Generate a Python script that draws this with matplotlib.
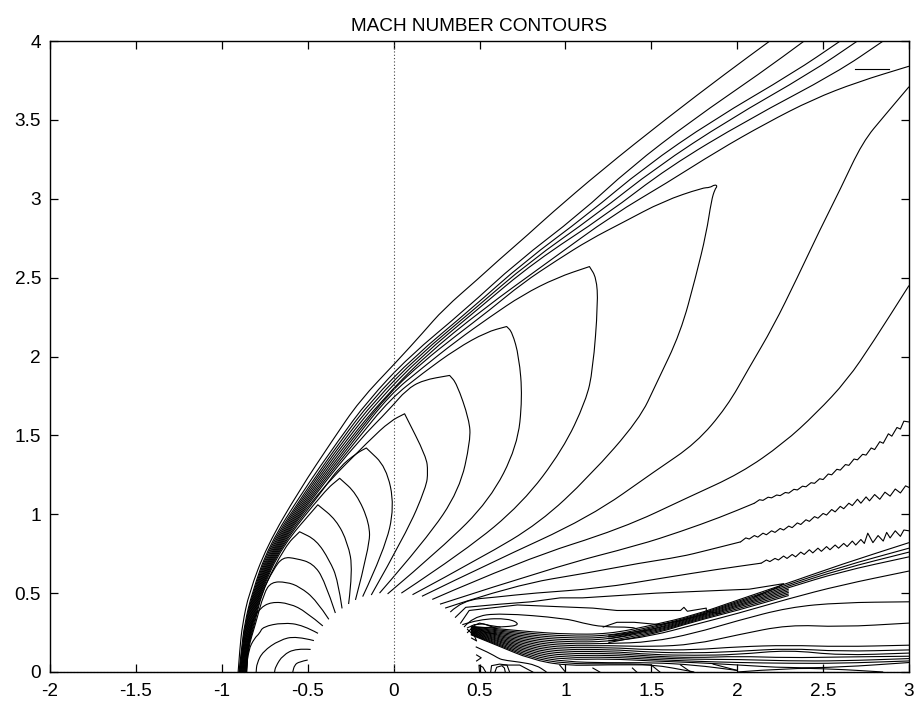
import matplotlib
matplotlib.use("Agg")
import matplotlib.pyplot as plt
from matplotlib.path import Path
from matplotlib.patches import PathPatch

title = "MACH NUMBER CONTOURS"
x_ticks = [-2, -1.5, -1, -0.5, 0, 0.5, 1, 1.5, 2, 2.5, 3]
y_ticks = [0, 0.5, 1, 1.5, 2, 2.5, 3, 3.5, 4]
x_tick_labels = ["-2", "-1.5", "-1", "-0.5", "0", "0.5", "1", "1.5", "2", "2.5", "3"]
y_tick_labels = ["0", "0.5", "1", "1.5", "2", "2.5", "3", "3.5", "4"]

# --- bow shock family: (x, y)
shock0 = [(-.905,0),(-.895,.15),(-.88,.3),(-.842,.5),(-.737,.8),(-.55,1.15),(-.355,1.47),(-.198,1.72),(.02,1.97),(.17,2.15),(.29,2.3),(.5,2.5),(.6,2.6),(.79,2.78),(.91,2.9),(1.21,3.18),(1.59,3.51),(1.94,3.8),(2.19,4)]
shock1 = [(-.90,0),(-.885,.15),(-.868,.3),(-.825,.5),(-.727,.8),(-.525,1.15),(-.32,1.47),(-.15,1.72),(.09,2),(.42,2.3),(.72,2.6),(1.08,2.9),(1.38,3.2),(1.74,3.5),(2.14,3.8),(2.39,4)]
shock2 = [(-.897,0),(-.882,.15),(-.864,.3),(-.82,.5),(-.72,.8),(-.51,1.15),(-.305,1.47),(-.13,1.72),(.12,2),(.45,2.3),(.76,2.6),(1.13,2.9),(1.46,3.2),(1.86,3.5),(2.33,3.8),(2.6,4)]
shock3 = [(-.894,0),(-.88,.15),(-.86,.3),(-.816,.5),(-.712,.8),(-.50,1.15),(-.29,1.47),(-.11,1.72),(.14,2),(.47,2.3),(.79,2.6),(1.18,2.9),(1.53,3.2),(1.95,3.5),(2.43,3.8),(2.7,4)]
shock4 = [(-.891,0),(-.877,.15),(-.856,.3),(-.812,.5),(-.705,.8),(-.49,1.15),(-.275,1.47),(-.09,1.72),(.16,2),(.49,2.3),(.82,2.6),(1.24,2.9),(1.6,3.2),(2.06,3.5),(2.58,3.8),(2.85,4)]
shock5 = [(-.888,0),(-.875,.15),(-.852,.3),(-.808,.5),(-.698,.8),(-.48,1.15),(-.26,1.47),(-.07,1.72),(.18,2),(.52,2.3),(.90,2.6),(1.28,2.9),(1.59,3.10),(1.88,3.30),(2.17,3.48),(2.44,3.63),(2.70,3.74),(3,3.84)]

# --- arches from the body surface up to a crest and back down the shock
arc_a0 = [(-.5,.076),(-.55,.065),(-.577,.044),(-.587,0)]
arc_a1 = [(-.483,.143),(-.567,.15),(-.645,.107),(-.687,.034),(-.693,0)]
arc_a2 = [(-.464,.199),(-.567,.228),(-.664,.203),(-.761,.13),(-.796,.055),(-.80,0)]
arc_a3 = [(-.44,.245),(-.528,.298),(-.645,.313),(-.761,.287),(-.78,.245),(-.81,.214),(-.845,.14),(-.858,0)]
arc_a4 = [(-.412,.292),(-.509,.382),(-.606,.435),(-.712,.445),(-.78,.403),(-.82,.33),(-.83,.28),(-.85,.15),(-.855,0)]
arc_a5 = [(-.377,.334),(-.45,.456),(-.547,.541),(-.625,.571),(-.712,.571),(-.755,.5),(-.805,.3),(-.847,.15),(-.856,0)]
arc_a6 = [(-.339,.374),(-.402,.583),(-.47,.689),(-.567,.72),(-.645,.729),(-.70,.65),(-.768,.5),(-.81,.3),(-.85,.15),(-.858,0)]
arc_a7 = [(-.30,.403),(-.324,.583),(-.373,.708),(-.45,.837),(-.547,.889),(-.547,.889),(-.63,.8),(-.772,.5),(-.815,.3),(-.852,.15),(-.861,0)]
arc_a8 = [(-.262,.431),(-.237,.647),(-.266,.817),(-.334,.965),(-.441,1.06),(-.441,1.06),(-.648,.8),(-.776,.5),(-.82,.3),(-.855,.15),(-.864,0)]
arc_a9 = [(-.222,.457),(-.14,.795),(-.14,.943),(-.217,1.133),(-.314,1.228),(-.314,1.228),(-.40,1.15),(-.656,.8),(-.78,.5),(-.824,.3),(-.857,.15),(-.867,0)]
arc_a10 = [(-.18,.478),(-.053,.773),(.006,1.05),(-.043,1.3),(-.159,1.42),(-.159,1.42),(-.217,1.386),(-.314,1.30),(-.415,1.15),(-.662,.8),(-.784,.5),(-.828,.3),(-.86,.15),(-.87,0)]
arc_a11 = [(-.13,.488),(.074,.879),(.19,1.174),(.2,1.27),(.19,1.365),(.064,1.637),(.064,1.637),(-.02,1.59),(-.14,1.47),(-.43,1.15),(-.668,.8),(-.788,.5),(-.832,.3),(-.862,.15),(-.873,0)]
arc_c2 = [(-.082,.50),(.19,.84),(.384,1.154),(.448,1.47),(.44,1.6),(.367,1.83),(.326,1.88),(.326,1.88),(.17,1.85),(.075,1.79),(-.02,1.67),(-.2,1.47),(-.44,1.15),(-.674,.8),(-.792,.5),(-.836,.3),(-.865,.15),(-.876,0)]
arc_c3 = [(-.035,.495),(.285,.79),(.56,1.09),(.72,1.43),(.75,1.74),(.73,2.0),(.69,2.155),(.658,2.19),(.658,2.19),(.54,2.155),(.367,2.05),(.17,1.895),(-.02,1.73),(-.215,1.47),(-.45,1.15),(-.68,.8),(-.796,.5),(-.84,.3),(-.867,.15),(-.879,0)]
arc_c4 = [(.045,.50),(.42,.77),(.75,1.07),(.985,1.41),(1.12,1.72),(1.16,1.915),(1.19,2.34),(1.18,2.50),(1.14,2.57),(1.14,2.57),(.95,2.50),(.75,2.39),(.56,2.25),(.367,2.10),(.17,1.93),(-.02,1.76),(-.23,1.47),(-.46,1.15),(-.686,.8),(-.80,.5),(-.844,.3),(-.87,.15),(-.882,0)]
arc_b1 = [(.11,.49),(.52,.73),(.85,.945),(1.14,1.24),(1.43,1.60),(1.53,1.83),(1.67,2.15),(1.76,2.51),(1.82,2.78),(1.85,2.99),(1.87,3.06),(1.885,3.08),(1.87,3.09),(1.84,3.07),(1.80,3.07),(1.57,2.985),(1.335,2.85),(1.14,2.74),(.95,2.61),(.75,2.465),(.56,2.295),(.367,2.135),(.17,1.965),(-.02,1.775),(-.245,1.47),(-.47,1.15),(-.692,.8),(-.804,.5),(-.848,.3),(-.872,.15),(-.885,0)]

# --- fan lines from the body to the right edge
fan_c6 = [(.165,.48),(.56,.69),(1.14,.98),(1.53,1.28),(1.76,1.45),(1.94,1.68),(2.07,1.93),(2.21,2.19),(2.35,2.50),(2.48,2.80),(2.60,3.06),(2.73,3.36),(2.86,3.53),(3,3.71)]
fan_c7 = [(.225,.46),(.75,.71),(1.33,.91),(1.72,1.11),(2.02,1.26),(2.27,1.45),(2.46,1.64),(2.64,1.85),(2.79,2.09),(3,2.45)]
fan_c8a = [(.27,.43),(.95,.67),(1.43,.805),(1.67,.89),(1.90,.98),(2.1,1.07)]
fan_c8b = [(2.1,1.07),(2.13,1.092),(2.15,1.088),(2.18,1.108),(2.2,1.104),(2.23,1.122),(2.25,1.118),(2.28,1.138),(2.3,1.134),(2.33,1.158),(2.35,1.154),(2.38,1.178),(2.4,1.174),(2.43,1.2),(2.45,1.196),(2.48,1.225),(2.5,1.22),(2.53,1.255),(2.55,1.25),(2.58,1.285),(2.6,1.28),(2.63,1.315),(2.65,1.31),(2.68,1.35),(2.7,1.345),(2.73,1.38),(2.75,1.375),(2.78,1.42),(2.8,1.41),(2.83,1.46),(2.85,1.45),(2.88,1.51),(2.9,1.495),(2.93,1.55),(2.95,1.54),(2.97,1.59),(3,1.585)]
fan_c9a = [(.30,.405),(.7,.55),(1.14,.63),(1.43,.69),(1.67,.73),(1.82,.77),(2.02,.825)]
fan_c9b = [(2.02,.825),(2.05,.85),(2.07,.843),(2.1,.865),(2.12,.855),(2.15,.88),(2.17,.87),(2.2,.895),(2.22,.885),(2.25,.91),(2.27,.9),(2.3,.925),(2.32,.915),(2.35,.945),(2.37,.935),(2.4,.965),(2.42,.955),(2.45,.985),(2.47,.975),(2.5,1.005),(2.52,.995),(2.55,1.03),(2.57,1.015),(2.6,1.05),(2.62,1.035),(2.65,1.07),(2.67,1.055),(2.7,1.095),(2.72,1.07),(2.75,1.11),(2.77,1.085),(2.8,1.125),(2.83,1.095),(2.86,1.14),(2.89,1.115),(2.92,1.16),(2.95,1.135),(2.98,1.18),(3,1.17)]
fan_c10a = [(.33,.38),(.40,.455),(.60,.475),(.81,.50),(1.20,.53),(1.59,.60),(1.88,.65),(2.14,.69)]
fan_c10b = [(2.14,.69),(2.17,.71),(2.19,.70),(2.22,.72),(2.24,.71),(2.27,.735),(2.29,.72),(2.32,.745),(2.34,.73),(2.37,.76),(2.39,.745),(2.42,.775),(2.44,.755),(2.47,.785),(2.49,.765),(2.52,.795),(2.54,.775),(2.57,.805),(2.59,.785),(2.62,.815),(2.64,.795),(2.67,.83),(2.69,.805),(2.72,.84),(2.74,.815),(2.76,.88),(2.79,.82),(2.82,.865),(2.85,.83),(2.87,.885),(2.89,.85),(2.92,.895),(2.95,.86),(2.97,.9),(3,.895)]
fan_c11 = [(.36,.347),(.42,.41),(.62,.43),(.80,.445),(.97,.47),(1.1,.47),(1.53,.50),(2.07,.525),(2.27,.56),(2.24,.54),(2.10,.476)]
fan_c12 = [(.39,.31),(.44,.39),(.72,.425),(1.16,.405),(1.3,.39),(1.67,.39),(1.69,.41),(1.71,.385),(1.82,.405),(1.82,.385),(1.9,.37)]
fan_c13 = [(.41,.285),(.46,.35),(.62,.374),(1.0,.34),(1.1,.31),(1.22,.285),(1.39,.285),(1.42,.27)]
fan_c13b = [(1.22,.285),(1.3,.315),(1.4,.315),(1.55,.30),(1.67,.325),(1.82,.37)]
tongue = [(.40,.30),(.5,.335),(.67,.34),(.74,.30),(.65,.285),(.45,.28)]

# --- shock off the body shoulder: y at band_x
band_x = [.45,.6,.8,1.0,1.25,1.5,1.75,2.0,2.3,2.6,3.0]
u0 = [.29,.275,.255,.24,.24,.295,.36,.455,.565,.68,.82]
u1 = [.286,.268,.244,.2275,.228,.285,.355,.447,.555,.665,.785]
u2 = [.282,.262,.233,.215,.216,.278,.35,.44,.545,.65,.76]
u3 = [.279,.255,.222,.2025,.204,.27,.345,.433,.535,.635,.73]
u10 = [.275,.249,.211,.19,.192,.228,.30,.37,.465,.55,.64]
u11 = [.272,.242,.2,.1775,.18,.19,.245,.325,.41,.44,.445]
u12 = [.269,.235,.189,.165,.168,.16,.175,.235,.30,.285,.31]
l0 = [.265,.229,.178,.1525,.156,.14,.14,.16,.17,.16,.17]
l1 = [.262,.222,.167,.14,.144,.125,.12,.13,.15,.13,.14]
l2 = [.259,.215,.156,.1275,.132,.11,.105,.11,.14,.105,.12]
l3 = [.255,.209,.145,.115,.12,.10,.09,.10,.09,.095,.10]
l4 = [.252,.202,.134,.1025,.108,.09,.08,.08,.07,.07,.085]
l5 = [.249,.196,.123,.09,.096,.08,.068,.06,.055,.055,.07]
l6 = [.245,.189,.112,.0775,.084,.07,.06,.045,.025,.03,.06]
l7 = [.242,.182,.101,.065,.058,.06,.045,.01]
l8 = [.239,.176,.09,.0525,.052,.05,.0]
l9 = [.236,.17,.08,.04,.046,.045]
# rising lines that appear only from x = 1.25 on
rise_x = [1.25,1.5,1.75,2.0,2.3]
u5 = [.232,.263,.34,.425,.525]
u6 = [.222,.256,.335,.418,.515]
u7 = [.21,.25,.33,.41,.505]
u8 = [.198,.243,.325,.40,.495]
u9 = [.186,.236,.32,.39,.485]

# --- shoulder knot and small wall contours
knot1 = [(.43,.28),(.47,.30),(.52,.305),(.56,.295),(.62,.285)]
knot2 = [(.43,.25),(.47,.295),(.50,.31),(.54,.30),(.60,.275)]
knot3 = [(.43,.27),(.46,.24),(.50,.27),(.54,.25),(.60,.24)]
wall1 = [(.50,0),(.497,.044),(.52,.03),(.536,0)]
wall2 = [(.565,0),(.57,.04),(.617,.05),(.66,.044),(.675,0)]
wall3 = [(.59,0),(.60,.03),(.63,.04),(.645,.025),(.65,0)]
wall4 = [(.478,.16),(.56,.12),(.605,.09),(.635,.076),(.734,.063),(.83,.044),(.89,0)]
wall5 = [(.483,.108),(.51,.09),(.483,.07)]
wall6 = [(.454,.215),(.483,.197),(.47,.23)]
wall7 = [(.635,.044),(.734,.044),(.81,0)]
wall8 = [(.967,.044),(1.0,0)]
wall9 = [(1.16,.025),(1.2,0)]
wall10 = [(1.39,.025),(1.415,0)]
wall11 = [(1.50,.044),(1.55,0)]
wall12 = [(1.67,.045),(1.73,0)]
wall13 = [(1.86,.05),(2.0,.01)]
wall14 = [(2.0,0),(2.3,.025),(2.55,.02),(2.85,0)]
key_sample = [(2.685,3.82),(2.883,3.82)]

smooth_curves = [shock0, shock1, shock2, shock3, shock4, shock5,
                 arc_a0, arc_a1, arc_a2, arc_a3, arc_a4, arc_a5, arc_a6, arc_a7, arc_a8,
                 arc_a9, arc_a10, arc_a11, arc_c2, arc_c3, arc_c4, arc_b1,
                 fan_c6, fan_c7, fan_c8a, fan_c9a, fan_c10a, fan_c13, tongue, wall4, wall14]
sharp_curves = [fan_c8b, fan_c9b, fan_c10b, fan_c11, fan_c12, fan_c13b,
                knot1, knot2, knot3, wall1, wall2, wall3, wall5, wall6, wall7,
                wall8, wall9, wall10, wall11, wall12, wall13, key_sample]
band_lines = [u0, u1, u2, u3, u10, u11, u12, l0, l1, l2, l3, l4, l5, l6, l7, l8, l9]
rise_lines = [u5, u6, u7, u8, u9]

plt.rcParams["font.family"] = ["Liberation Sans", "DejaVu Sans"]
plt.rcParams["axes.unicode_minus"] = False

fig = plt.figure(figsize=(9.17, 7.04), dpi=100)
ax = fig.add_axes([50 / 917, 1 - 672 / 704, 859 / 917, 631 / 704])

LW = 0.8


def draw_smooth(points):
    """Rounded stroke through the read points, drawn with quadratic path segments."""
    verts = [points[0]]
    codes = [Path.MOVETO]
    for a, b in zip(points[1:-1], points[2:]):
        verts += [a, ((a[0] + b[0]) / 2, (a[1] + b[1]) / 2)]
        codes += [Path.CURVE3, Path.CURVE3]
    verts.append(points[-1])
    codes.append(Path.LINETO)
    ax.add_patch(PathPatch(Path(verts, codes), fill=False, edgecolor="black", lw=LW, joinstyle="round"))


for c in smooth_curves:
    draw_smooth(c)
for ys in band_lines:
    draw_smooth(list(zip(band_x, ys)))
for ys in rise_lines:
    draw_smooth(list(zip(rise_x, ys)))
for c in sharp_curves:
    ax.plot([p[0] for p in c], [p[1] for p in c], color="black", lw=LW, solid_joinstyle="round")

ax.axvline(0, color="#444444", lw=0.8, ls=(0, (1, 2)))
ax.axhline(0, color="#444444", lw=0.8, ls=(0, (1, 2)), clip_on=False)

ax.set_xlim(-2, 3)
ax.set_ylim(0, 4)
ax.set_xticks(x_ticks)
ax.set_xticklabels(x_tick_labels)
ax.set_yticks(y_ticks)
ax.set_yticklabels(y_tick_labels)
ax.tick_params(direction="in", length=5.8, width=0.9, top=True, right=True, labelsize=13.7, color="black")
ax.tick_params(axis="x", pad=8)
ax.tick_params(axis="y", pad=6.5)
for s in ax.spines.values():
    s.set_linewidth(1.0)
ax.set_title(title, fontsize=13.65, pad=7.5)

fig.savefig("out.png", dpi=100)
